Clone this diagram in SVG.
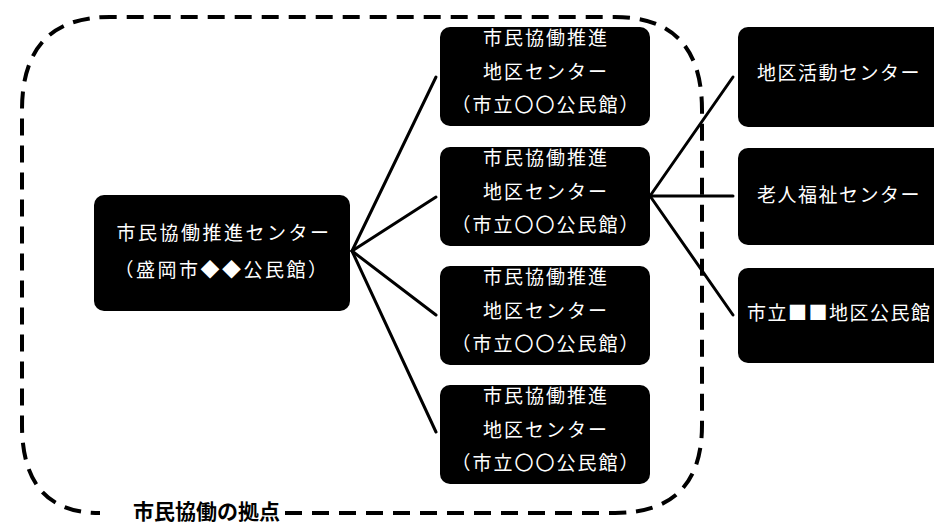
<svg xmlns="http://www.w3.org/2000/svg" width="934" height="525" viewBox="0 0 934 525">
<style>
.box{fill:#000}
.t{fill:#fff;font-family:"Noto Sans CJK JP","Noto Sans CJK SC",sans-serif;font-size:19px;letter-spacing:2px}
.c{text-anchor:middle}
.conn line{stroke:#000;stroke-width:3;stroke-linecap:round}
.frame{fill:none;stroke:#000;stroke-width:4;stroke-dasharray:17 10}
.lbl{fill:#000;font-family:"Noto Sans CJK JP","Noto Sans CJK SC",sans-serif;font-size:21px;font-weight:bold}
</style>
<rect width="934" height="525" fill="#fff"/>
<path class="frame" d="M 285 513 H 615 Q 702 513 702 425 V 110 Q 702 17 615 17 H 110 Q 22 17 22 110 V 425 Q 22 513 100 513"/>
<text class="lbl" x="133" y="519">市民協働の拠点</text>
<g class="conn">
<line x1="352" y1="251" x2="436" y2="77"/>
<line x1="352" y1="251" x2="436" y2="197"/>
<line x1="352" y1="251" x2="436" y2="315"/>
<line x1="352" y1="251" x2="436" y2="432"/>
<line x1="650" y1="196" x2="733" y2="77"/>
<line x1="650" y1="196" x2="733" y2="196"/>
<line x1="650" y1="196" x2="733" y2="315"/>
</g>
<g id="main">
<rect class="box" x="94" y="195" width="256" height="116" rx="10"/>
<text class="t c" x="224" y="240" style="letter-spacing:2.5px">市民協働推進センター</text>
<text class="t c" x="222" y="277" style="letter-spacing:2.5px">（盛岡市◆◆公民館）</text>
</g>
<g id="sub1">
<rect class="box" x="440" y="27" width="210" height="99" rx="10"/>
<text class="t c" x="546" y="45">市民協働推進</text>
<text class="t c" x="546" y="79">地区センター</text>
<text class="t c" x="546" y="112">（市立〇〇公民館）</text>
</g>
<g id="sub2">
<rect class="box" x="440" y="147" width="210" height="99" rx="10"/>
<text class="t c" x="546" y="165">市民協働推進</text>
<text class="t c" x="546" y="199">地区センター</text>
<text class="t c" x="546" y="232">（市立〇〇公民館）</text>
</g>
<g id="sub3">
<rect class="box" x="440" y="266" width="210" height="99" rx="10"/>
<text class="t c" x="546" y="284">市民協働推進</text>
<text class="t c" x="546" y="318">地区センター</text>
<text class="t c" x="546" y="351">（市立〇〇公民館）</text>
</g>
<g id="sub4">
<rect class="box" x="440" y="385" width="210" height="99" rx="10"/>
<text class="t c" x="546" y="403">市民協働推進</text>
<text class="t c" x="546" y="437">地区センター</text>
<text class="t c" x="546" y="470">（市立〇〇公民館）</text>
</g>
<g id="area1">
<rect class="box" x="738" y="27" width="220" height="100" rx="10"/>
<text class="t" x="757" y="80" style="letter-spacing:1.5px">地区活動センター</text>
</g>
<g id="area2">
<rect class="box" x="738" y="148" width="220" height="97" rx="10"/>
<text class="t" x="757" y="202" style="letter-spacing:1.5px">老人福祉センター</text>
</g>
<g id="area3">
<rect class="box" x="738" y="268" width="220" height="95" rx="10"/>
<text class="t" x="747" y="320" style="letter-spacing:1.5px">市立■■地区公民館</text>
</g>
</svg>
